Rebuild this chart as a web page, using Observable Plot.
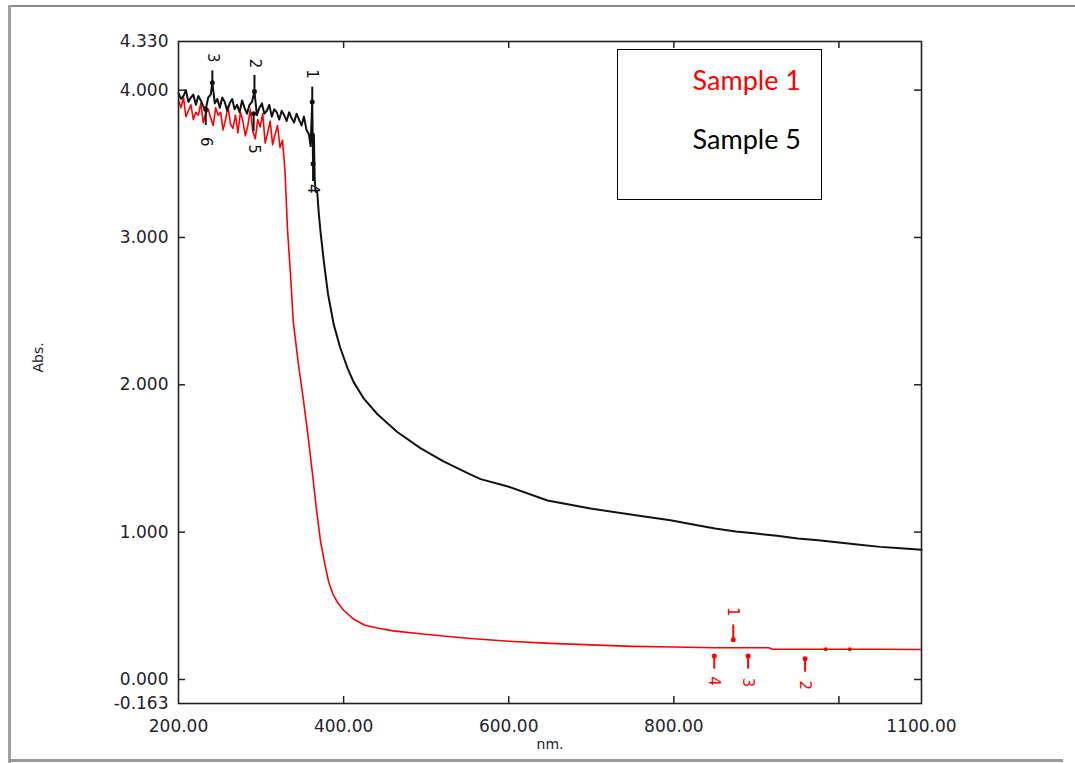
<!DOCTYPE html>
<html>
<head>
<meta charset="utf-8">
<script src="https://cdn.jsdelivr.net/npm/d3@7"></script>
<script src="https://cdn.jsdelivr.net/npm/@observablehq/plot@0.6"></script>
<style>
  html, body { margin: 0; padding: 0; background: #fff; }
  #wrap { position: relative; width: 1075px; height: 763px; overflow: hidden; }
  #chart { position: absolute; left: 0; top: 0; }
  .frame-top { position: absolute; left: 9px; top: 5px; width: 1066px; height: 2px; background: #8a8a8a; }
  .frame-left { position: absolute; left: 8px; top: 5px; width: 3px; height: 758px; background: #a0a0a0; }
  .frame-bottom { position: absolute; left: 9px; top: 759px; width: 1054px; height: 3px; background: #9a9a9a; }
  #legend { position: absolute; left: 617px; top: 49px; width: 203px; height: 149px; border: 1px solid #000; background: #fff;
            font-family: Lato, "Open Sans", sans-serif; font-size: 27px; }
  #legend div { position: absolute; right: 20px; white-space: nowrap; }
</style>
</head>
<body>
<div id="wrap">
  <div id="chart"></div>
  <div class="frame-top"></div>
  <div class="frame-left"></div>
  <div class="frame-bottom"></div>
  <div id="legend">
    <div id="leg1" style="top: 13px; color: #ff0000;"></div>
    <div id="leg2" style="top: 72px; color: #000;"></div>
  </div>
</div>
<script>
// ---- Data ----
const seriesNames = ["Sample 1", "Sample 5"];

// Sample 1 (red)
const sample1Nm = [200,203,206,209,212,215,218,221,224,227,230,233,236,239,242,245,248,251,254,257,260,263,266,269,272,275,278,281,284,287,290,293,296,299,302,305,308,311,314,317,320,323,326,
  329,332,336,339,345,351,357,362,367,372,377,382,387,393,400,412,425,441,460,493,520,550,600,650,700,750,800,849,872,900,915,920,960,1000,1050,1100];
const sample1Abs = [3.93,3.88,3.95,3.82,3.86,3.90,3.80,3.85,3.83,3.91,3.78,3.84,3.87,3.81,3.76,3.88,3.83,3.85,3.73,3.80,3.89,3.77,3.74,3.83,3.71,3.85,3.79,3.69,3.76,3.87,3.72,3.67,3.80,3.75,3.84,3.64,3.71,3.79,3.63,3.70,3.76,3.61,3.66,
  3.45,3.06,2.72,2.43,2.15,1.91,1.65,1.41,1.16,0.94,0.79,0.66,0.58,0.52,0.47,0.41,0.37,0.35,0.33,0.31,0.295,0.28,0.26,0.245,0.235,0.225,0.22,0.215,0.215,0.215,0.215,0.205,0.205,0.205,0.205,0.203];

// Sample 5 (black)
const sample5Nm = [200,203,206,209,212,215,218,221,224,227,230,233,236,239,241,244,247,250,253,256,259,262,265,268,271,274,277,280,283,286,289,292,295,298,301,304,307,310,313,316,319,322,325,328,331,334,337,340,343,346,349,352,355,358,360,362,363,364,365,366,368,
  370,372,376,381,388,396,405,412,424,441,465,493,521,554,566,599,647,699,760,796,825,850,875,900,925,950,975,1000,1025,1050,1075,1100];
const sample5Abs = [3.98,3.94,3.96,4.00,3.92,3.95,3.97,3.90,3.96,3.93,3.89,3.87,3.95,3.97,4.05,
  3.91,3.94,3.88,3.95,3.92,3.86,3.91,3.94,3.87,3.90,3.85,3.93,3.88,3.84,3.90,3.92,3.99,3.83,3.88,3.91,3.84,3.86,3.90,3.82,3.87,3.85,3.80,3.86,3.83,3.79,3.85,3.81,3.78,3.84,3.80,3.76,3.82,3.73,3.70,
  3.62,3.92,3.50,3.70,3.40,3.31,3.31,
  3.16,3.04,2.84,2.62,2.41,2.25,2.11,2.02,1.91,1.80,1.68,1.57,1.48,1.39,1.36,1.31,1.215,1.16,1.11,1.08,1.05,1.025,1.005,0.99,0.975,0.957,0.945,0.93,0.915,0.90,0.89,0.88];

// Peak / valley markers: label, wavelength, value, arrow end, label position
const peakLabels1 = ["1", "4", "3", "2"];
const peakNm1     = [872, 849, 890, 959];
const peakAbs1    = [0.27, 0.16, 0.16, 0.14];
const peakEnd1    = [0.37, 0.07, 0.07, 0.05];
const peakText1   = [0.46, -0.01, -0.02, -0.04];

const peakLabels5 = ["3", "2", "1", "6", "5", "4"];
const peakNm5     = [241, 292, 362, 233, 291, 363];
const peakAbs5    = [4.05, 3.99, 3.92, 3.87, 3.84, 3.50];
const peakEnd5    = [4.13, 4.10, 4.02, 3.76, 3.72, 3.38];
const peakText5   = [4.22, 4.18, 4.11, 3.65, 3.60, 3.33];

const smallDotsNm1 = [984, 1013];
const smallDotsAbs1 = [0.205, 0.205];

const xTickLabels = [200, 400, 600, 800, 1100];
const xTickMarks = [400, 600, 800, 1000];
const yTickLabels = [-0.163, 0, 1, 2, 3, 4, 4.33];
const yTickMarks = [0, 1, 2, 3, 4];
const xDomain = [200, 1100];
const yDomain = [-0.163, 4.33];

// ---- Build tables ----
const s1 = sample1Nm.map((x, i) => ({x, y: sample1Abs[i]}));
const s5 = sample5Nm.map((x, i) => ({x, y: sample5Abs[i]}));
const pk1 = peakLabels1.map((t, i) => ({t, x: peakNm1[i], y: peakAbs1[i], y2: peakEnd1[i], ty: peakText1[i]}));
const pk5 = peakLabels5.map((t, i) => ({t, x: peakNm5[i], y: peakAbs5[i], y2: peakEnd5[i], ty: peakText5[i]}));
const dots1 = smallDotsNm1.map((x, i) => ({x, y: smallDotsAbs1[i]}));

document.getElementById("leg1").textContent = seriesNames[0];
document.getElementById("leg2").textContent = seriesNames[1];

const tickLenX = 7 * (xDomain[1] - xDomain[0]) / 743;
const tickLenY = 7 * (yDomain[1] - yDomain[0]) / 662;
const labelFont = "DejaVu Sans, Verdana, sans-serif";
const inkColor = "#22222c";

const chart = Plot.plot({
  width: 1075,
  height: 763,
  marginLeft: 178,
  marginRight: 154,
  marginTop: 41,
  marginBottom: 60,
  style: {fontFamily: labelFont, fontSize: "17px", color: inkColor, background: "transparent"},
  x: {domain: xDomain},
  y: {domain: yDomain},
  marks: [
    Plot.axisX(xTickLabels, {tickSize: 0, tickPadding: 16, tickFormat: d => d.toFixed(2), label: null, fontSize: 17, fill: inkColor}),
    Plot.axisY(yTickLabels, {tickSize: 0, tickPadding: 10, tickFormat: d => d.toFixed(3), label: null, fontSize: 17, fill: inkColor}),
    // inward tick marks
    Plot.ruleY(yTickMarks, {y: d => d, x1: xDomain[0], x2: xDomain[0] + tickLenX, stroke: "#222", strokeWidth: 1.5}),
    Plot.ruleY(yTickMarks, {y: d => d, x1: xDomain[1], x2: xDomain[1] - tickLenX, stroke: "#222", strokeWidth: 1.5}),
    Plot.ruleX(xTickMarks, {x: d => d, y1: yDomain[0], y2: yDomain[0] + tickLenY, stroke: "#222", strokeWidth: 1.5}),
    Plot.ruleX(xTickMarks, {x: d => d, y1: yDomain[1], y2: yDomain[1] - tickLenY, stroke: "#222", strokeWidth: 1.5}),
    // curves
    Plot.line(s1, {x: "x", y: "y", stroke: "#ff0000", strokeWidth: 1.6}),
    Plot.line(s5, {x: "x", y: "y", stroke: "#111", strokeWidth: 2}),
    // markers sample 1
    Plot.ruleX(pk1, {x: "x", y1: "y", y2: "y2", stroke: "#ff0000", strokeWidth: 2}),
    Plot.dot(pk1, {x: "x", y: "y", r: 2.5, fill: "#ff0000"}),
    Plot.dot(dots1, {x: "x", y: "y", r: 2, fill: "#ff0000"}),
    Plot.text(pk1, {x: "x", y: "ty", text: "t", rotate: 90, fill: "#ff0000", fontSize: 15, fontFamily: labelFont}),
    // markers sample 5
    Plot.ruleX(pk5, {x: "x", y1: "y", y2: "y2", stroke: "#111", strokeWidth: 2}),
    Plot.dot(pk5, {x: "x", y: "y", r: 2.5, fill: "#111"}),
    Plot.text(pk5, {x: "x", y: "ty", text: "t", rotate: 90, fill: "#111", fontSize: 15, fontFamily: labelFont}),
    // frame
    Plot.frame({stroke: "#222", strokeWidth: 1.6}),
    // axis titles
    Plot.text(["Abs."], {frameAnchor: "left", dx: -140, rotate: -90, fontSize: 14, fill: inkColor}),
    Plot.text(["nm."], {frameAnchor: "bottom", dy: 45, fontSize: 14, fill: inkColor})
  ]
});
document.getElementById("chart").appendChild(chart);
</script>
</body>
</html>
